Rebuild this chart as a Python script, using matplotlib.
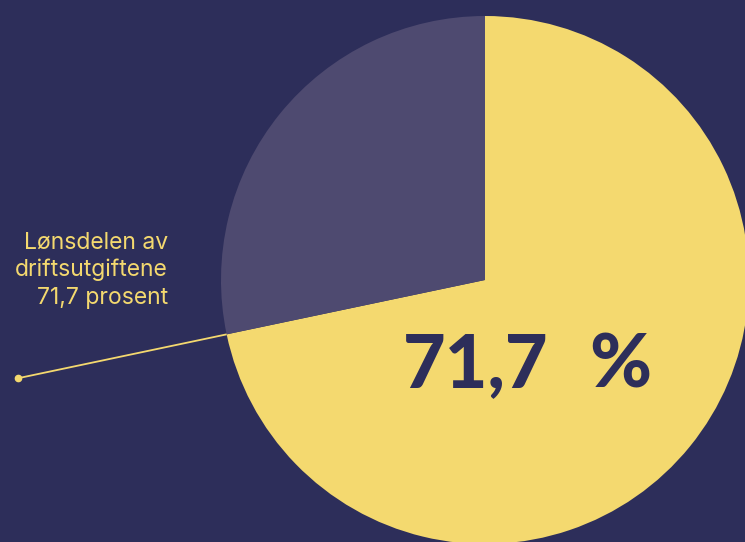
import numpy as np
import matplotlib
matplotlib.use("Agg")
import matplotlib.pyplot as plt

labels = ["Lønnsdel", "Øvrige driftsutgifter"]
values = [71.7, 28.3]
colors = ["#f4d96f", "#4e4a70"]
bg = "#2d2e5a"
annot_text = "Lønsdelen av\ndriftsutgiftene\n71,7 prosent"
big_number = "71,7"
big_unit = "%"

W, H = 745, 542
fig = plt.figure(figsize=(W / 100, H / 100), dpi=100, facecolor=bg)
ax = fig.add_axes([0, 0, 1, 1])
ax.set_facecolor(bg)

cx, cy, r = 485, H - 280, 264
ax.pie(values, colors=colors, startangle=90, counterclock=False,
       center=(cx, cy), radius=r, frame=False,
       wedgeprops=dict(linewidth=0))

# leader line along the slice boundary
ang = np.deg2rad(90 - values[0] / 100 * 360)
ex, ey = cx + r * np.cos(ang), cy + r * np.sin(ang)
dx = 18
dy = cy + (dx - cx) * np.tan(ang)
ax.plot([dx, ex], [dy, ey], color=colors[0], lw=1.3, solid_capstyle="butt")
ax.plot([dx], [dy], "o", color=colors[0], ms=4.5)

ax.text(168, H - 270, annot_text, ha="right", va="center", multialignment="right",
        color=colors[0], fontsize=16.5, family="Inter", linespacing=1.31)
ax.text(548, H - 366, big_number, ha="right", va="center", color=bg,
        fontsize=53, family="Lato", fontweight="black")
ax.text(651, H - 366, big_unit, ha="right", va="center", color=bg,
        fontsize=54, family="Lato", fontweight="black")

ax.set_xlim(0, W)
ax.set_ylim(0, H)
ax.set_aspect("equal")
ax.set_axis_off()
fig.savefig("out.png", dpi=100, facecolor=bg)
